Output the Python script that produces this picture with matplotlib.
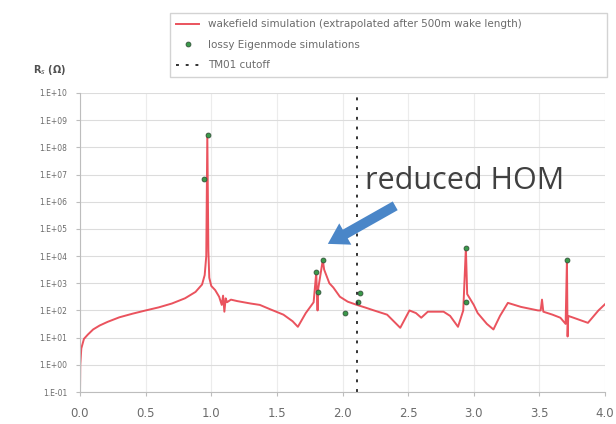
"""Impedance spectrum: wakefield vs eigenmode simulations"""

import matplotlib
matplotlib.use("Agg")
import matplotlib.pyplot as plt
from matplotlib.ticker import FixedLocator, NullLocator

# wakefield curve, frequency (GHz) and R (Ohm)
freq = [0.0, 0.002, 0.01, 0.03, 0.06, 0.10, 0.15, 0.21, 0.30, 0.40,
        0.50, 0.60, 0.70, 0.80, 0.88, 0.93, 0.95, 0.962, 0.97, 0.978,
        0.985, 1.00, 1.03, 1.06, 1.08, 1.09, 1.10, 1.11, 1.12, 1.15,
        1.20, 1.30, 1.37, 1.45, 1.55, 1.62, 1.66, 1.72, 1.78, 1.80,
        1.805, 1.81, 1.815, 1.85, 1.86, 1.90, 1.93, 1.98, 2.04, 2.11,
        2.18, 2.24, 2.34, 2.44, 2.51, 2.56, 2.60, 2.65, 2.77, 2.82,
        2.88, 2.92, 2.94, 2.95, 3.00, 3.03, 3.10, 3.15, 3.20, 3.26,
        3.36, 3.49, 3.51, 3.52, 3.53, 3.60, 3.66, 3.70, 3.71, 3.715,
        3.72, 3.76, 3.87, 3.95, 4.02, 4.06]
r_wake = [1.0e-1, 1.0e0, 4.0e0, 9.0e0, 1.3e1, 2.0e1, 2.8e1, 3.8e1, 5.6e1, 7.6e1,
          1.0e2, 1.3e2, 1.8e2, 2.8e2, 4.8e2, 9.0e2, 2.0e3, 1.0e4, 3.0e8, 1.6e4,
          1.6e3, 8.0e2, 5.6e2, 3.2e2, 1.6e2, 3.5e2, 9.0e1, 2.8e2, 2.0e2, 2.5e2,
          2.2e2, 1.8e2, 1.6e2, 1.1e2, 7.0e1, 4.0e1, 2.5e1, 8.0e1, 2.0e2, 2.5e3,
          4.0e2, 1.0e2, 6.3e2, 7.2e3, 3.2e3, 1.0e3, 7.0e2, 3.2e2, 2.1e2, 1.6e2,
          1.25e2, 1.0e2, 7.0e1, 2.3e1, 1.0e2, 8.0e1, 5.4e1, 9.0e1, 9.0e1, 6.3e1,
          2.5e1, 1.0e2, 2.0e4, 4.0e2, 1.6e2, 8.0e1, 3.2e1, 2.0e1, 6.3e1, 1.9e2,
          1.35e2, 1.0e2, 1.0e2, 2.5e2, 9.0e1, 7.0e1, 5.4e1, 3.2e1, 7.2e3, 1.1e1,
          6.3e1, 5.4e1, 3.5e1, 1.0e2, 2.1e2, 1.35e2]

# lossy eigenmode simulation points
eig_freq = [0.947, 0.975, 1.80, 1.855, 1.81, 2.02, 2.13, 2.12, 2.94, 2.94, 3.71]
eig_r = [6.9e6, 2.9e8, 2.6e3, 7.2e3, 4.8e2, 8.0e1, 4.5e2, 2.0e2, 2.0e4, 2.1e2, 7.2e3]

tm01_cutoff = 2.11

x_ticks = [0.0, 0.5, 1.0, 1.5, 2.0, 2.5, 3.0, 3.5, 4.0]
y_exponents = list(range(-1, 11))

GREY = "#6b6b6b"

fig = plt.figure(figsize=(6.16, 4.24), dpi=100)
ax = fig.add_axes([80 / 616, 1 - 392 / 424, 525 / 616, 299 / 424])

ax.plot(freq, r_wake, color="#e8404c", lw=1.4, alpha=0.9,
        label="wakefield simulation (extrapolated after 500m wake length)")
ax.plot(eig_freq, eig_r, ls="none", marker="o", ms=3.5, mfc="#3a9a4a",
        mec="#33523a", mew=0.6, label="lossy Eigenmode simulations")
ax.axvline(tm01_cutoff, color="#333333", lw=1.4, ls=(0, (1.5, 3.5)),
           label="TM01 cutoff")

ax.set_yscale("log")
ax.set_ylim(1e-1, 1e10)
ax.set_xlim(0, 4.0)
ax.yaxis.set_major_locator(FixedLocator([10.0 ** e for e in y_exponents]))
ax.yaxis.set_minor_locator(NullLocator())
ax.set_yticklabels([f"1.E{e:+03d}" for e in y_exponents])
ax.set_xticks(x_ticks)
ax.set_xticklabels([f"{v:.1f}" for v in x_ticks])

ax.grid(True, axis="y", color="#dcdcdc", lw=0.8)
ax.grid(True, axis="x", color="#ececec", lw=0.8)
ax.set_axisbelow(True)
for side in ("top", "right"):
    ax.spines[side].set_visible(False)
for side in ("left", "bottom"):
    ax.spines[side].set_color("#bdbdbd")
ax.tick_params(axis="y", colors="#bdbdbd", labelcolor=GREY, labelsize=5.5,
               length=3, pad=6)
ax.tick_params(axis="x", colors="#bdbdbd", labelcolor=GREY, labelsize=8.5,
               length=3, pad=8)

fig.text(33 / 616, 1 - 70 / 424, "R$_s$ (Ω)", fontsize=7, color="#505050",
         va="center", ha="left", fontweight="bold")

ax.annotate("", xy=(1.87, 10 ** 4.4), xytext=(2.42, 10 ** 5.9),
            arrowprops=dict(arrowstyle="simple,tail_width=0.45,head_width=1.1,head_length=0.9",
                            color="#4a86c8", mutation_scale=16, lw=0))
ax.text(2.17, 10 ** 6.75, "reduced HOM", fontsize=22, color="#404040",
        family="Open Sans", va="center", ha="left")

leg = ax.legend(loc="upper left", mode="expand",
                bbox_to_anchor=(165 / 616, 1 - 82 / 424, 447 / 616, 74 / 424),
                bbox_transform=fig.transFigure, fontsize=7.5, frameon=True,
                fancybox=False, edgecolor="#c8c8c8", labelspacing=1.0,
                handlelength=2.2, borderpad=0.6)
for t in leg.get_texts():
    t.set_color(GREY)

fig.savefig("out.png", dpi=100)
